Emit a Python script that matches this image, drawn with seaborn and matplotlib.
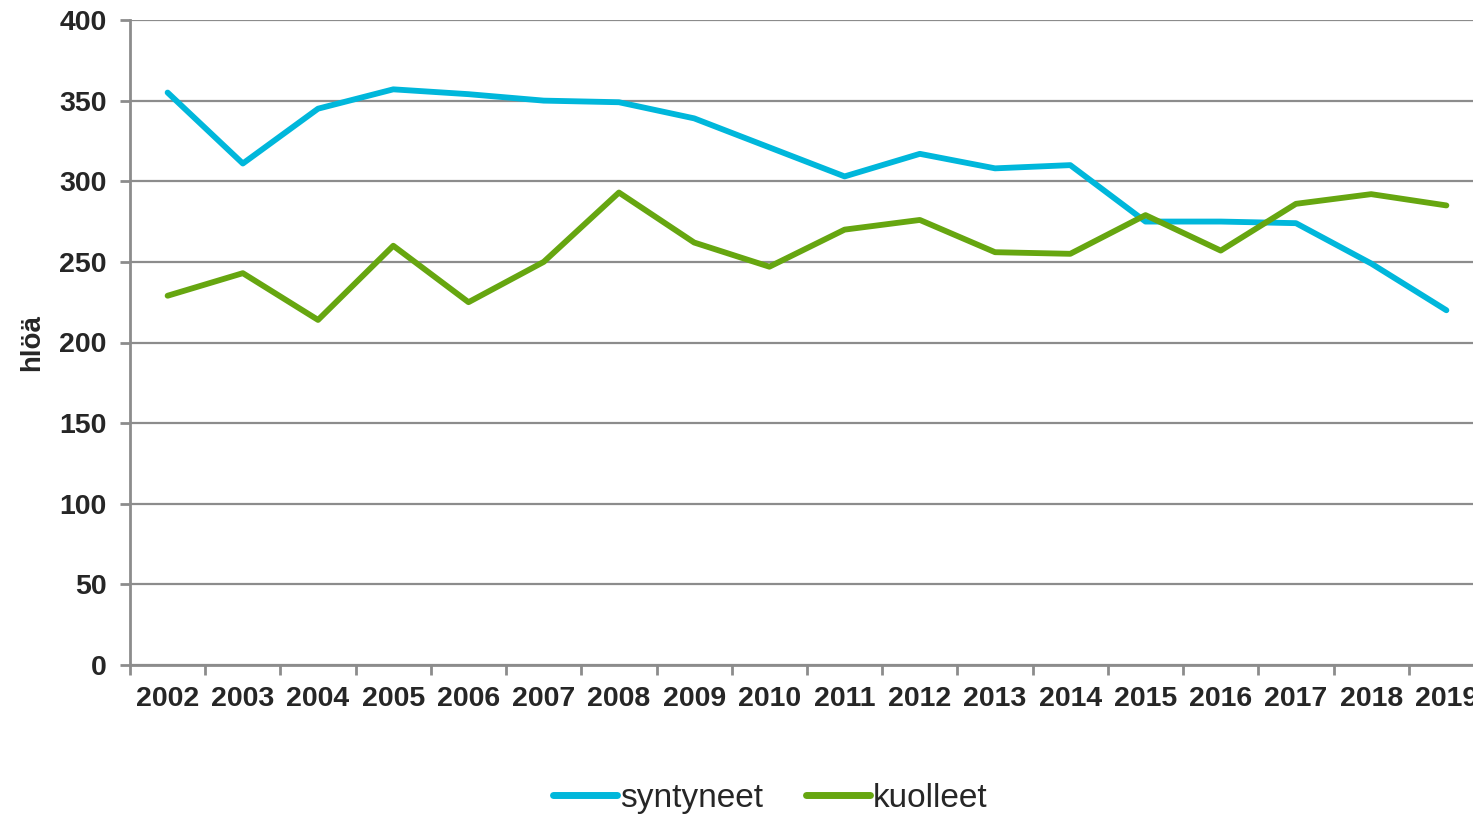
import numpy as np
import pandas as pd
import matplotlib
matplotlib.use('Agg')
import matplotlib.pyplot as plt
import seaborn as sns

years = [str(y) for y in range(2002, 2020)]
syntyneet = [355, 311, 345, 357, 354, 350, 349, 339, 321, 303, 317, 308, 310, 275, 275, 274, 249, 220]
kuolleet = [229, 243, 214, 260, 225, 250, 293, 262, 247, 270, 276, 256, 255, 279, 257, 286, 292, 285]
series_names = ['syntyneet', 'kuolleet']
colors = ['#00B7DB', '#66A610']
y_ticks = [0, 50, 100, 150, 200, 250, 300, 350, 400]

df = pd.DataFrame({
    'pos': list(range(len(years))) * 2,
    'value': syntyneet + kuolleet,
    'series': [series_names[0]] * len(years) + [series_names[1]] * len(years),
})

sns.set_style('white')
plt.rcParams['font.family'] = ['Liberation Sans', 'DejaVu Sans']

fig = plt.figure(figsize=(14.73, 8.16), dpi=100)
# the reference clips the right end of the axis, so the axes runs past the figure edge
ax = fig.add_axes([130 / 1473, 151 / 816, 1354 / 1473, 645 / 816])

sns.lineplot(data=df, x='pos', y='value', hue='series', palette=colors,
             linewidth=4.2, ax=ax, legend=False, solid_capstyle='round')

ax.set_xlim(-0.5, len(years) - 0.5)
ax.set_ylim(0, 400)
ax.set_yticks(y_ticks)
ax.set_yticklabels([str(v) for v in y_ticks], fontsize=20.5, fontweight='bold', color='#262626')
ax.set_xticks(range(len(years)))
ax.set_xticklabels(years, fontsize=20.5, fontweight='bold', color='#262626')
ax.set_xticks(np.arange(-0.5, len(years), 1), minor=True)
ax.tick_params(axis='x', which='major', bottom=True, length=0, pad=15)
ax.tick_params(axis='x', which='minor', bottom=True, length=7, width=2, color='#8c8c8c', direction='out')
ax.tick_params(axis='y', left=True, length=7, width=2, color='#8c8c8c', direction='out', pad=10)

ax.grid(axis='y', color='#8c8c8c', linewidth=1.6)
ax.set_axisbelow(True)
for side in ['top', 'right']:
    ax.spines[side].set_visible(False)
for side in ['left', 'bottom']:
    ax.spines[side].set_color('#8c8c8c')
    ax.spines[side].set_linewidth(2)

ax.set_xlabel('')
ax.set_ylabel('hlöä', fontsize=20, fontweight='bold', color='#262626', labelpad=10)

handles = [plt.Line2D([], [], color=c, linewidth=5, solid_capstyle='round') for c in colors]
fig.legend(handles, series_names, loc='center', bbox_to_anchor=(0.523, 0.022), ncol=2,
           frameon=False, fontsize=24, handlelength=1.9, handletextpad=0.1, columnspacing=1.3)

fig.savefig('out.png', dpi=100)
